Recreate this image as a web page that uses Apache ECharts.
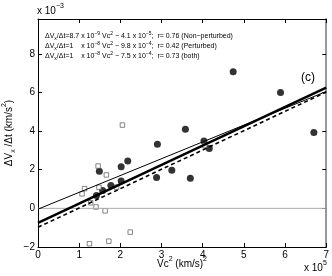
<!DOCTYPE html>
<html><head><meta charset="utf-8">
<script src="https://cdn.jsdelivr.net/npm/echarts@6/dist/echarts.min.js"></script>
<style>html,body{margin:0;padding:0;background:#fff}#c{width:332px;height:276px}</style>
</head><body><div id="c"></div>
<script>
// Vc^2 in units of 1e5 (km/s)^2 ; dV/dt in units of 1e-3 km/s^2
var nonPerturbedX = [1.42,1.49,1.57,1.77,2.02,2.02,2.18,2.90,2.88,3.25,3.58,3.70,4.03,4.16,4.74,5.89,6.70];
var nonPerturbedY = [0.67,1.92,0.93,1.18,1.42,2.15,2.45,3.32,1.60,1.97,4.10,1.56,3.48,3.10,7.07,6.00,3.93];
var perturbedX = [1.07,1.13,1.28,1.41,1.46,1.48,1.63,1.66,1.91,2.05,2.24,1.25,1.72,4.05];
var perturbedY = [0.75,1.02,0.29,0.07,2.19,1.09,-0.13,1.73,1.10,4.31,-1.23,-1.83,-1.70,3.25];
// regression fits (slope per 1e5, intercept in 1e-3)
var fitNames = ['Non-perturbed','Perturbed','both'];
var fitSlopes = [0.87, 1.0, 1.0];
var fitIntercepts = [-0.041, -0.98, -0.75];
var xTicks = [0,1,2,3,4,5,6,7];
var yTicks = [-2,0,2,4,6,8];

function pairs(xs, ys){ return xs.map(function(x,i){return [x, ys[i]];}); }
function fitLine(i){ return [[0, fitIntercepts[i]], [7, fitSlopes[i]*7 + fitIntercepts[i]]]; }

var F = 'Liberation Sans, Arial, sans-serif';
var chart = echarts.init(document.getElementById('c'), null, {renderer:'canvas'});
var tickStyle = {inside:true, length:4, lineStyle:{color:'#000', width:1}};
chart.setOption({
  animation:false,
  grid:{left:38, right:5, top:19, bottom:29},
  xAxis:[
    {type:'value', min:0, max:7, interval:1, position:'bottom',
     axisLine:{show:true, onZero:false, lineStyle:{color:'#000', width:1}},
     axisTick:tickStyle, splitLine:{show:false},
     axisLabel:{fontFamily:F, fontSize:10, color:'#000', margin:3,
       formatter:function(v){return xTicks.indexOf(v)>=0 ? String(v) : '';}}},
    {type:'value', min:0, max:7, interval:1, position:'top',
     axisLine:{show:true, onZero:false, lineStyle:{color:'#000', width:1}},
     axisTick:tickStyle, splitLine:{show:false}, axisLabel:{show:false}}
  ],
  yAxis:[
    {type:'value', min:-2, max:9.8, interval:2, position:'left',
     axisLine:{show:true, onZero:false, lineStyle:{color:'#000', width:1}},
     axisTick:tickStyle, splitLine:{show:false},
     axisLabel:{fontFamily:F, fontSize:10, color:'#000', margin:3, showMaxLabel:false,
       formatter:function(v){ if (yTicks.indexOf(v)<0) return ''; return v<0 ? '\u2212'+(-v) : String(v);}}},
    {type:'value', min:-2, max:9.8, interval:2, position:'right',
     axisLine:{show:true, onZero:false, lineStyle:{color:'#999', width:2}},
     axisTick:{inside:true, length:4, lineStyle:{color:'#000', width:1}}, splitLine:{show:false}, axisLabel:{show:false}}
  ],
  series:[
    {type:'line', data:[[0,0],[7,0]], symbol:'none', lineStyle:{color:'#aaa', width:1}, silent:true},
    {type:'scatter', name:'Non-perturbed', data:pairs(nonPerturbedX, nonPerturbedY), symbol:'circle', symbolSize:7,
     itemStyle:{color:'#000'}},
    {type:'scatter', name:'Perturbed', data:pairs(perturbedX, perturbedY), symbol:'rect', symbolSize:4.5,
     itemStyle:{color:'#fff', borderColor:'#444', borderWidth:0.8}},
    {type:'line', name:fitNames[0], data:fitLine(0), symbol:'none', lineStyle:{color:'#000', width:1}},
    {type:'line', name:fitNames[1], data:fitLine(1), symbol:'none', lineStyle:{color:'#000', width:1.6, type:[4,3]}},
    {type:'line', name:fitNames[2], data:fitLine(2), symbol:'none', lineStyle:{color:'#000', width:2.5}}
  ],
  graphic:[
    {type:'text', left:37, top:3, style:{text:'{n|x 10}{s|\u22123}', rich:{
      n:{fontSize:10, fontFamily:F, fill:'#000', lineHeight:16}, s:{fontSize:7, fontFamily:F, fill:'#000', lineHeight:16, verticalAlign:'top'}}}},
    {type:'text', left:304, top:260, style:{text:'{n|x 10}{s|5}', rich:{
      n:{fontSize:10, fontFamily:F, fill:'#000', lineHeight:16}, s:{fontSize:7, fontFamily:F, fill:'#000', lineHeight:16, verticalAlign:'top'}}}},
    {type:'text', left:157, top:256, style:{text:'{n|Vc}{s|2}{n| (km/s)}{s|2}', rich:{
      n:{fontSize:10, fontFamily:F, fill:'#000', lineHeight:16}, s:{fontSize:7, fontFamily:F, fill:'#000', lineHeight:16, verticalAlign:'top'}}}},
    {type:'text', x:9, y:133, rotation:Math.PI/2, style:{text:'{n|\u0394V}{b|x}{n| /\u0394t (km/s}{s|2}{n|)}', align:'center', verticalAlign:'middle', rich:{
      n:{fontSize:10, fontFamily:F, fill:'#000', lineHeight:16}, s:{fontSize:7, fontFamily:F, fill:'#000', lineHeight:16, verticalAlign:'top'}, b:{fontSize:7, fontFamily:F, fill:'#000', lineHeight:16, verticalAlign:'bottom'}}}},
    {type:'text', left:301, top:72, style:{text:'(c)', fontSize:12, fontFamily:F, fill:'#000'}},
    {type:'text', left:45, top:31, style:{
      text:'{n|\u0394V}{b|x}{n|/\u0394t=8.7 x 10}{s|\u22129}{n| Vc}{s|2}{n| \u2212 4.1 x 10}{s|\u22125}{n|;  r= 0.76 (Non\u2212perturbed)}\n'+
           '{n|\u0394V}{b|x}{n|/\u0394t=1    x 10}{s|\u22128}{n| Vc}{s|2}{n| \u2212 9.8 x 10}{s|\u22124}{n|;  r= 0.42 (Perturbed)}\n'+
           '{n|\u0394V}{b|x}{n|/\u0394t=1    x 10}{s|\u22128}{n| Vc}{s|2}{n| \u2212 7.5 x 10}{s|\u22124}{n|;  r= 0.73 (both)}',
      rich:{
        n:{fontSize:7, fontFamily:F, fill:'#000', lineHeight:10},
        s:{fontSize:5, fontFamily:F, fill:'#000', lineHeight:10, verticalAlign:'top'},
        b:{fontSize:5, fontFamily:F, fill:'#000', lineHeight:10, verticalAlign:'bottom'}}}}
  ]
});
</script></body></html>
